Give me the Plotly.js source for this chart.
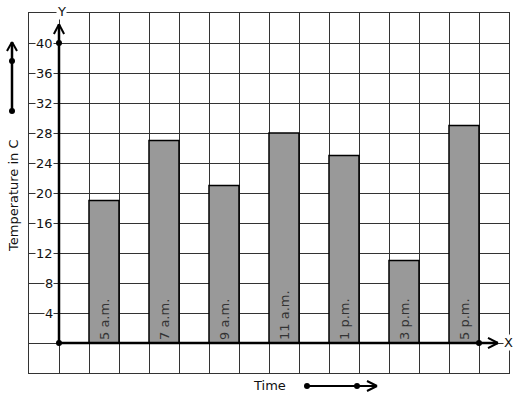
<!DOCTYPE html>
<html>
<head>
<meta charset="utf-8">
<script src="https://cdn.plot.ly/plotly-3.0.1.min.js"></script>
<style>html,body{margin:0;padding:0;background:#fff;}#chart{width:517px;height:399px;}</style>
</head>
<body>
<div id="chart"></div>
<script>
const times = ["5 a.m.", "7 a.m.", "9 a.m.", "11 a.m.", "1 p.m.", "3 p.m.", "5 p.m."];
const temps = [19, 27, 21, 28, 25, 11, 29];
const barPositions = [1.5, 3.5, 5.5, 7.5, 9.5, 11.5, 13.5];
const yTickValues = [4, 8, 12, 16, 20, 24, 28, 32, 36, 40];
const yTickLabels = ["4", "8", "12", "16", "20", "24", "28", "32", "36", "40"];

const W = 517, H = 399, L = 29, R = 8, T = 13, B = 26;
const pw = W - L - R, ph = H - T - B;
const px = v => (v - L) / pw;
const py = v => (H - B - v) / ph;
const FONT = "DejaVu Sans";
const INK = "#111";

const bars = {
  type: "bar", x: barPositions, y: temps, width: 1,
  text: times, textposition: "inside", textangle: -90, insidetextanchor: "start",
  insidetextfont: {family: FONT, size: 13, color: "#333"},
  marker: {color: "#999999", line: {color: "#000", width: 1.5}},
  hoverinfo: "skip", showlegend: false
};
const dots = {
  type: "scatter", mode: "markers", x: [0, 0, 14], y: [0, 40, 0],
  marker: {color: "#000", size: 6}, cliponaxis: false, showlegend: false, hoverinfo: "skip"
};

const shapes = [];
function line(x0, y0, x1, y1, ref, w) {
  shapes.push({type: "line", xref: ref === "paper" ? "paper" : "x", yref: ref === "paper" ? "paper" : "y",
    x0, y0, x1, y1, line: {color: "#000", width: w}, layer: "above"});
}
// axes
line(0, 0, 14.63, 0, "data", 2.5);
line(14.63, 0, 14.3, 0.67, "data", 2);
line(14.63, 0, 14.3, -0.67, "data", 2);
line(0, 0, 0, 42.5, "data", 2.5);
line(0, 42.5, -0.17, 41.2, "data", 2);
line(0, 42.5, 0.17, 41.2, "data", 2);
// left arrow
line(px(12), py(111), px(12), py(42), "paper", 2.5);
line(px(12), py(42), px(7), py(51), "paper", 2);
line(px(12), py(42), px(17), py(51), "paper", 2);
// time arrow
line(px(307), py(386), px(377), py(386), "paper", 2);
line(px(377), py(386), px(367), py(381), "paper", 2);
line(px(377), py(386), px(367), py(391), "paper", 2);
function dot(cx, cy) {
  shapes.push({type: "circle", xref: "paper", yref: "paper", x0: px(cx - 3), x1: px(cx + 3), y0: py(cy + 3), y1: py(cy - 3),
    fillcolor: "#000", line: {width: 0}, layer: "above"});
}
dot(12, 61); dot(12, 111); dot(307, 386); dot(357, 386);

const annotations = yTickValues.map((v, i) => ({
  xref: "paper", yref: "y", x: px(54), y: v, xanchor: "right", yanchor: "middle",
  text: yTickLabels[i], showarrow: false, bgcolor: "#fff", borderpad: 0,
  font: {family: FONT, size: 13, color: INK}
}));
function label(text, cx, cy, extra) {
  annotations.push(Object.assign({xref: "paper", yref: "paper", x: px(cx), y: py(cy), text,
    xanchor: "center", yanchor: "middle", showarrow: false,
    font: {family: FONT, size: 13, color: INK}}, extra || {}));
}
label("Y", 61, 11, {bgcolor: "#fff", borderpad: 0});
label("X", 508, 342, {bgcolor: "#fff", borderpad: 0});
label("Time", 269.5, 385);
label("Temperature in C", 13, 196, {textangle: -90});

const layout = {
  width: W, height: H, margin: {l: L, r: R, t: T, b: B},
  paper_bgcolor: "#fff", plot_bgcolor: "#fff",
  xaxis: {range: [-1, 15], dtick: 1, tick0: 0, showgrid: true, gridcolor: "#333", gridwidth: 1,
    zeroline: false, showticklabels: false, ticks: "", showline: true, mirror: true, linecolor: "#333", linewidth: 1, fixedrange: true},
  yaxis: {range: [-4, 44], dtick: 4, tick0: 0, showgrid: true, gridcolor: "#333", gridwidth: 1,
    zeroline: false, showticklabels: false, ticks: "", showline: true, mirror: true, linecolor: "#333", linewidth: 1, fixedrange: true},
  shapes, annotations, showlegend: false, bargap: 0
};
Plotly.newPlot("chart", [bars, dots], layout, {staticPlot: true, displayModeBar: false});
</script>
</body>
</html>
